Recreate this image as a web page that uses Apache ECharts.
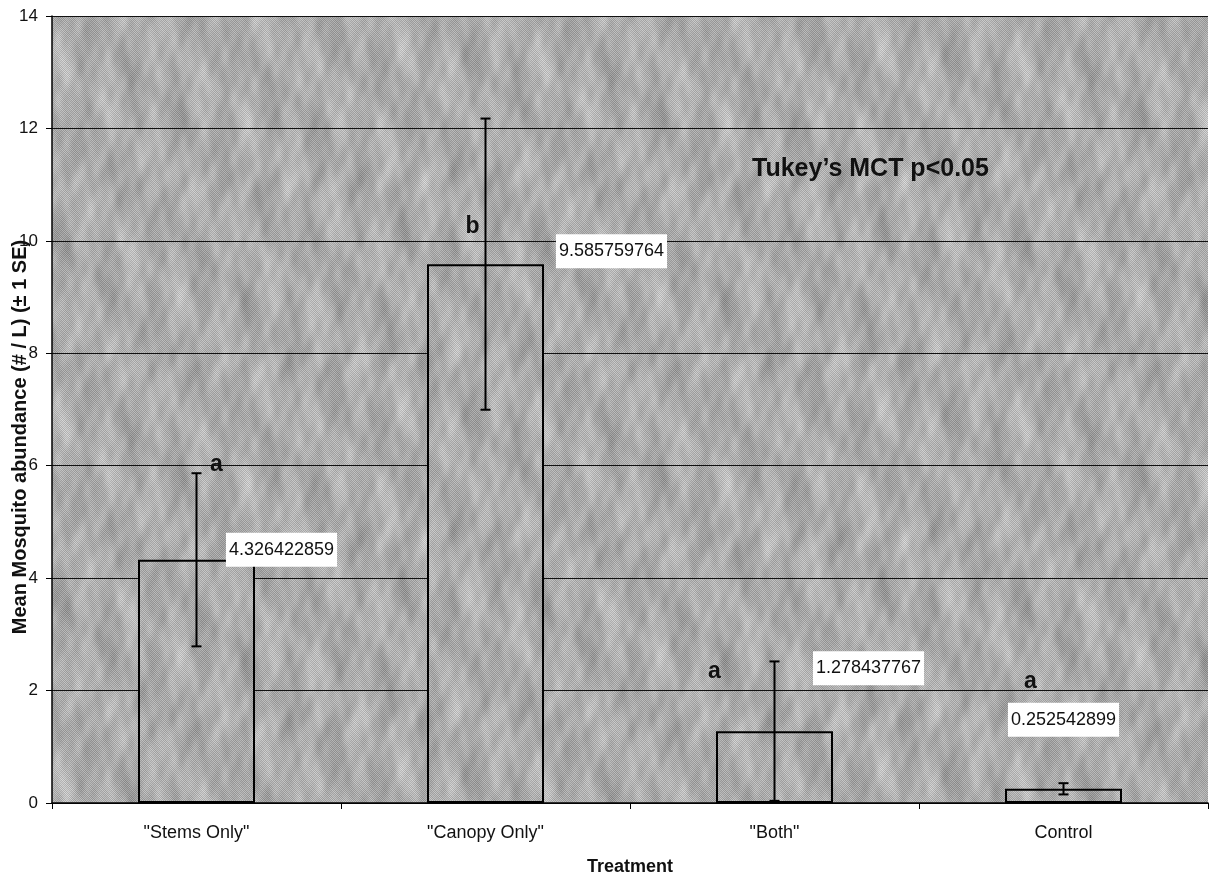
<!DOCTYPE html>
<html>
<head>
<meta charset="utf-8">
<title>Mean Mosquito abundance by Treatment</title>
<script src="https://cdn.jsdelivr.net/npm/echarts@6/dist/echarts.min.js"></script>
<style>
  html, body { margin: 0; padding: 0; background: #ffffff; overflow: hidden; }
  #chart { width: 1209px; height: 882px; }
</style>
</head>
<body>
<div id="chart"></div>
<script>
// Treatments and mean abundance (# / L) with one standard error
const categories = ['"Stems Only"', '"Canopy Only"', '"Both"', 'Control'];
const means = [4.326422859, 9.585759764, 1.278437767, 0.252542899];
const stdErrors = [1.54, 2.59, 1.24, 0.1];
const groupLetters = ['a', 'b', 'a', 'a'];
const yTicks = { min: 0, max: 14, step: 2 };

// Label placement (pixel offsets from the bar top / error-bar top)
const valueLabelOffsets = [[85, 7], [126, 4], [94, -46], [0, -52]];
const letterOffsets = [[20, -9], [-13, 108], [-60, 10], [-33, -102]];

const FONT = '"Liberation Sans", Arial, Helvetica, sans-serif';

// Grainy grey blotched texture used for the plot area and the bars
function makeTexture() {
  const w = 480, h = 360;
  const c = document.createElement('canvas');
  c.width = w; c.height = h;
  const ctx = c.getContext('2d');
  const img = ctx.createImageData(w, h);
  const T = Math.PI * 2;
  for (let y = 0; y < h; y++) {
    for (let x = 0; x < w; x++) {
      const u = x / w, v = y / h;
      let g = 172;
      g += 12 * Math.sin(T * (3 * u + 2 * v)) * Math.sin(T * (7 * u - v));
      g += 9 * Math.sin(T * (11 * u + 0.5 * Math.sin(T * 2 * v))) * Math.cos(T * 3 * v);
      g += 7 * Math.sin(T * 23 * u) * Math.sin(T * (5 * v + 2 * u));
      g += 5 * Math.sin(T * (37 * u + 3 * v)) * Math.cos(T * (9 * v - 4 * u));
      g += ((x + y) % 2 === 0) ? 16 : -16;
      g += ((x * 7 + y * 13) % 5 - 2) * 3;
      g = Math.max(0, Math.min(255, Math.round(g)));
      const i = (y * w + x) * 4;
      img.data[i] = g; img.data[i + 1] = g; img.data[i + 2] = g; img.data[i + 3] = 255;
    }
  }
  ctx.putImageData(img, 0, 0);
  return c;
}
const texture = makeTexture();
const texturePattern = { image: texture, repeat: 'repeat' };

const chart = echarts.init(document.getElementById('chart'), null, { renderer: 'canvas' });

const barData = means.map((m, i) => ({
  value: m,
  label: { offset: valueLabelOffsets[i] }
}));

const errorData = means.map((m, i) => [i, m - stdErrors[i], m + stdErrors[i]]);

const option = {
  backgroundColor: '#ffffff',
  animation: false,
  grid: {
    left: 52, right: 1, top: 16, height: 787,
    show: true,
    backgroundColor: texturePattern,
    borderWidth: 0
  },
  xAxis: {
    type: 'category',
    data: categories,
    axisLine: { show: true, lineStyle: { color: '#000', width: 1.5 } },
    axisTick: { show: true, length: 6, lineStyle: { color: '#000', width: 1 } },
    axisLabel: { color: '#111', fontFamily: FONT, fontSize: 18, margin: 21 },
    name: 'Treatment',
    nameLocation: 'middle',
    nameGap: 55,
    nameTextStyle: { color: '#111', fontFamily: FONT, fontSize: 18, fontWeight: 'bold' }
  },
  yAxis: {
    type: 'value',
    min: yTicks.min, max: yTicks.max, interval: yTicks.step,
    axisLine: { show: true, lineStyle: { color: '#000', width: 1.5 } },
    axisTick: { show: true, length: 6, lineStyle: { color: '#000', width: 1 } },
    axisLabel: { color: '#111', fontFamily: FONT, fontSize: 17, margin: 14 },
    splitLine: { show: true, lineStyle: { color: '#111', width: 1 } }
  },
  graphic: [
    {
      type: 'text',
      x: 20, y: 437,
      rotation: Math.PI / 2,
      style: {
        text: 'Mean Mosquito abundance (# / L) (± 1 SE)',
        fontFamily: FONT, fontSize: 20, fontWeight: 'bold', fill: '#111',
        align: 'center', verticalAlign: 'middle'
      },
      z: 100
    },
    {
      type: 'text',
      left: 752, top: 157,
      style: {
        text: 'Tukey\u2019s MCT p<0.05',
        fontFamily: FONT, fontSize: 25, fontWeight: 'bold', fill: '#111'
      },
      z: 100
    }
  ],
  series: [
    {
      type: 'bar',
      data: barData,
      barWidth: 117,
      itemStyle: { color: texturePattern, borderColor: '#000', borderWidth: 2 },
      label: {
        show: true,
        position: 'top',
        distance: 0,
        formatter: (p) => String(p.value),
        fontFamily: FONT, fontSize: 18, color: '#111',
        backgroundColor: '#ffffff',
        padding: [7, 3, 7, 3],
        lineHeight: 20
      },
      z: 3
    },
    {
      type: 'custom',
      data: errorData,
      z: 5,
      renderItem: function (params, api) {
        const idx = api.value(0);
        const lowPt = api.coord([idx, api.value(1)]);
        const highPt = api.coord([idx, api.value(2)]);
        const cap = 5;
        const ls = { stroke: '#000', lineWidth: 2 };
        const off = letterOffsets[params.dataIndex];
        return {
          type: 'group',
          children: [
            { type: 'line', shape: { x1: lowPt[0], y1: lowPt[1], x2: highPt[0], y2: highPt[1] }, style: ls },
            { type: 'line', shape: { x1: lowPt[0] - cap, y1: lowPt[1], x2: lowPt[0] + cap, y2: lowPt[1] }, style: ls },
            { type: 'line', shape: { x1: highPt[0] - cap, y1: highPt[1], x2: highPt[0] + cap, y2: highPt[1] }, style: ls },
            {
              type: 'text',
              x: highPt[0] + off[0], y: highPt[1] + off[1],
              style: {
                text: groupLetters[params.dataIndex],
                fontFamily: FONT, fontSize: 23, fontWeight: 'bold', fill: '#111',
                align: 'center', verticalAlign: 'middle'
              }
            }
          ]
        };
      }
    }
  ]
};

chart.setOption(option);
</script>
</body>
</html>
